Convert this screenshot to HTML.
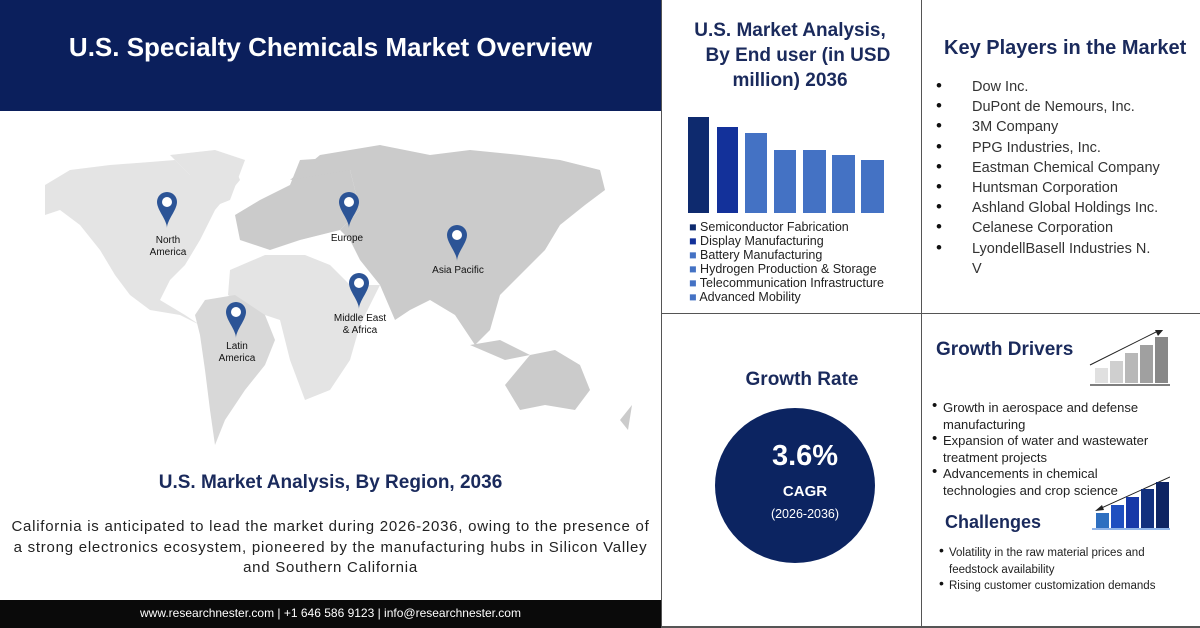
<!DOCTYPE html>
<html><head><meta charset="utf-8"><style>
*{margin:0;padding:0;box-sizing:border-box}
body{width:1200px;height:628px;background:#fff;position:relative;overflow:hidden;font-family:"Liberation Sans",sans-serif}
.a{position:absolute;white-space:nowrap}
.nv{color:#1a2a5c;font-weight:bold}
</style></head><body>
<div class="a" style="left:0;top:0;width:661px;height:111px;background:#0b1f5c"></div>
<div class="a" style="left:0;top:32px;width:661px;text-align:center;color:#fff;font-weight:bold;font-size:26px">U.S. Specialty Chemicals Market Overview</div>
<div class="a" style="left:0;top:600px;width:661px;height:28px;background:#0a0a0a"></div>
<div class="a" style="left:0;top:606px;width:661px;text-align:center;color:#fff;font-size:12px">www.researchnester.com | +1 646 586 9123 | info@researchnester.com</div>
<div class="a" style="left:661px;top:0;width:1px;height:628px;background:#555"></div>
<div class="a" style="left:921px;top:0;width:1px;height:628px;background:#555"></div>
<div class="a" style="left:661px;top:313px;width:539px;height:1px;background:#555"></div>
<div class="a" style="left:661px;top:626px;width:539px;height:2px;background:#555"></div>

<svg class="a" style="left:0;top:100px" width="661" height="370" viewBox="0 0 661 370">
<g fill="#e4e4e4">
<path d="M45,85 L70,70 L110,65 L150,62 L175,60 L190,75 L200,60 L230,55 L240,80 L215,110 L200,140 L185,165 L170,180 L160,200 L185,215 L200,225 L180,215 L150,210 L130,195 L115,175 L100,150 L80,125 L60,110 L45,115Z"/>
<path d="M170,55 L215,50 L245,60 L230,100 L205,110 L195,80Z"/>
<path d="M230,170 L265,155 L305,155 L330,165 L350,185 L380,185 L360,225 L350,260 L330,290 L305,300 L290,260 L280,220 L250,210 L228,195Z"/>
</g>
<g fill="#d8d8d8">
<path d="M205,200 L235,195 L265,215 L275,240 L265,265 L245,290 L225,320 L215,345 L210,310 L205,270 L200,235 L195,215Z"/>
</g>
<g fill="#cbcbcb">
<path d="M240,140 L235,115 L260,100 L290,85 L300,60 L330,58 L350,70 L360,110 L340,130 L300,140 L270,150Z"/>
<path d="M290,80 L320,55 L380,45 L430,55 L470,50 L520,55 L560,60 L600,70 L605,90 L585,105 L560,125 L545,150 L520,175 L500,195 L490,230 L475,245 L455,215 L430,200 L410,210 L395,220 L380,185 L360,160 L350,140 L340,130 L360,110 L350,70Z"/>
<path d="M470,245 L500,240 L530,255 L505,260Z"/>
<path d="M505,285 L530,255 L555,250 L580,265 L590,290 L575,310 L545,305 L520,310Z"/>
<path d="M620,320 L632,305 L628,330Z"/>
</g>
<g fill="#2c5496">
<path d="M157,102 a10,10 0 0,1 20,0 c0,8 -10,18 -10,26 c0,-8 -10,-18 -10,-26Z"/>
<path d="M339,102 a10,10 0 0,1 20,0 c0,8 -10,18 -10,26 c0,-8 -10,-18 -10,-26Z"/>
<path d="M447,135 a10,10 0 0,1 20,0 c0,8 -10,18 -10,26 c0,-8 -10,-18 -10,-26Z"/>
<path d="M349,183 a10,10 0 0,1 20,0 c0,8 -10,18 -10,26 c0,-8 -10,-18 -10,-26Z"/>
<path d="M226,212 a10,10 0 0,1 20,0 c0,8 -10,18 -10,26 c0,-8 -10,-18 -10,-26Z"/>
</g>
<g fill="#fff"><circle cx="167" cy="102" r="5"/><circle cx="349" cy="102" r="5"/><circle cx="457" cy="135" r="5"/><circle cx="359" cy="183" r="5"/><circle cx="236" cy="212" r="5"/></g>
<g font-family="Liberation Sans,sans-serif" font-size="10" fill="#111" text-anchor="middle">
<text x="168" y="143">North</text><text x="168" y="155">America</text>
<text x="347" y="141">Europe</text>
<text x="458" y="173">Asia Pacific</text>
<text x="360" y="221">Middle East</text><text x="360" y="233">&amp; Africa</text>
<text x="237" y="249">Latin</text><text x="237" y="261">America</text>
</g>
</svg>

<div class="a nv" style="left:0;top:472px;width:661px;text-align:center;font-size:19px">U.S. Market Analysis, By Region, 2036</div>
<div class="a" style="left:0;top:517px;width:661px;text-align:center;font-size:15px;letter-spacing:0.75px;line-height:20.5px;color:#222">California is anticipated to lead the market during 2026-2036, owing to the presence of<br>a strong electronics ecosystem, pioneered by the manufacturing hubs in Silicon Valley<br>and Southern California</div>

<div class="a nv" style="left:680px;top:18px;font-size:19px;line-height:25px;text-align:center;width:220px">U.S. Market Analysis,<br>&nbsp;&nbsp;&nbsp;By End user (in USD<br>million) 2036</div>
<div class="a" style="left:688px;top:117px;width:21px;height:96px;background:#0e2a6e"></div>
<div class="a" style="left:717px;top:127px;width:21px;height:86px;background:#13319a"></div>
<div class="a" style="left:745px;top:133px;width:22px;height:80px;background:#4472c4"></div>
<div class="a" style="left:774px;top:150px;width:22px;height:63px;background:#4472c4"></div>
<div class="a" style="left:803px;top:150px;width:23px;height:63px;background:#4472c4"></div>
<div class="a" style="left:832px;top:155px;width:23px;height:58px;background:#4472c4"></div>
<div class="a" style="left:861px;top:160px;width:23px;height:53px;background:#4472c4"></div>
<div class="a" style="left:689px;top:220px;font-size:12.5px;line-height:14px;color:#222">
<span style="color:#0e2a6e">■</span> Semiconductor Fabrication<br><span style="color:#13319a">■</span> Display Manufacturing<br><span style="color:#4472c4">■</span> Battery Manufacturing<br><span style="color:#4472c4">■</span> Hydrogen Production &amp; Storage<br><span style="color:#4472c4">■</span> Telecommunication Infrastructure<br><span style="color:#4472c4">■</span> Advanced Mobility</div>

<div class="a nv" style="left:944px;top:37px;font-size:20px">Key Players in the Market</div>
<div class="a" style="left:936px;top:76px;font-size:17px;line-height:20.2px;color:#111">
•<br>•<br>•<br>•<br>•<br>•<br>•<br>•<br>•</div>
<div class="a" style="left:972px;top:77px;font-size:14.5px;line-height:20.2px;color:#333">Dow Inc.<br>DuPont de Nemours, Inc.<br>3M Company<br>PPG Industries, Inc.<br>Eastman Chemical Company<br>Huntsman Corporation<br>Ashland Global Holdings Inc.<br>Celanese Corporation<br>LyondellBasell Industries N.<br>V</div>

<div class="a nv" style="left:702px;top:369px;width:200px;text-align:center;font-size:19px">Growth Rate</div>
<div class="a" style="left:715px;top:408px;width:160px;height:155px;border-radius:50%;background:#0c2461"></div>
<div class="a" style="left:715px;top:440px;width:180px;text-align:center;color:#fff;font-weight:bold;font-size:29px">3.6%</div>
<div class="a" style="left:715px;top:483px;width:180px;text-align:center;color:#fff;font-weight:bold;font-size:15px">CAGR</div>
<div class="a" style="left:715px;top:507px;width:180px;text-align:center;color:#fff;font-size:12.5px">(2026-2036)</div>

<div class="a nv" style="left:936px;top:339px;font-size:19px">Growth Drivers</div>
<svg class="a" style="left:1085px;top:330px" width="85" height="70">
<rect x="10" y="38" width="13" height="15" fill="#e0e0e0"/><rect x="25" y="31" width="13" height="22" fill="#cfcfcf"/><rect x="40" y="23" width="13" height="30" fill="#b8b8b8"/><rect x="55" y="15" width="13" height="38" fill="#a0a0a0"/><rect x="70" y="7" width="13" height="46" fill="#888"/>
<line x1="5" y1="55" x2="85" y2="55" stroke="#555" stroke-width="1.5"/>
<line x1="5" y1="35" x2="75" y2="0" stroke="#222" stroke-width="1"/><path d="M79,-1 L70,0 L73,6Z" fill="#222"/>
</svg>
<div class="a" style="left:932px;top:398px;font-size:15px;line-height:16.5px;color:#111">•<br><br>•<br><br>•</div>
<div class="a" style="left:943px;top:400px;font-size:13px;line-height:16.5px;color:#222">Growth in aerospace and defense<br>manufacturing<br>Expansion of water and wastewater<br>treatment projects<br>Advancements in chemical<br>technologies and crop science</div>
<svg class="a" style="left:1085px;top:475px" width="85" height="60">
<line x1="85" y1="2" x2="12" y2="35" stroke="#222" stroke-width="1"/><path d="M10,36 L17,30 L19,35Z" fill="#222"/>
<rect x="11" y="38" width="13" height="15" fill="#2e6fc0"/><rect x="26" y="30" width="13" height="23" fill="#1f4fc0"/><rect x="41" y="22" width="13" height="31" fill="#1738a8"/><rect x="56" y="14" width="13" height="39" fill="#12307e"/><rect x="71" y="7" width="13" height="46" fill="#0e2463"/>
<line x1="7" y1="54" x2="85" y2="54" stroke="#6b9be0" stroke-width="1.5"/>
</svg>
<div class="a nv" style="left:945px;top:512px;font-size:18px">Challenges</div>
<div class="a" style="left:939px;top:542px;font-size:14px;line-height:16.5px;color:#111">•<br><br>•</div>
<div class="a" style="left:949px;top:545px;font-size:11.5px;line-height:16.5px;color:#222">Volatility in the raw material prices and<br>feedstock availability<br>Rising customer customization demands</div>
</body></html>
